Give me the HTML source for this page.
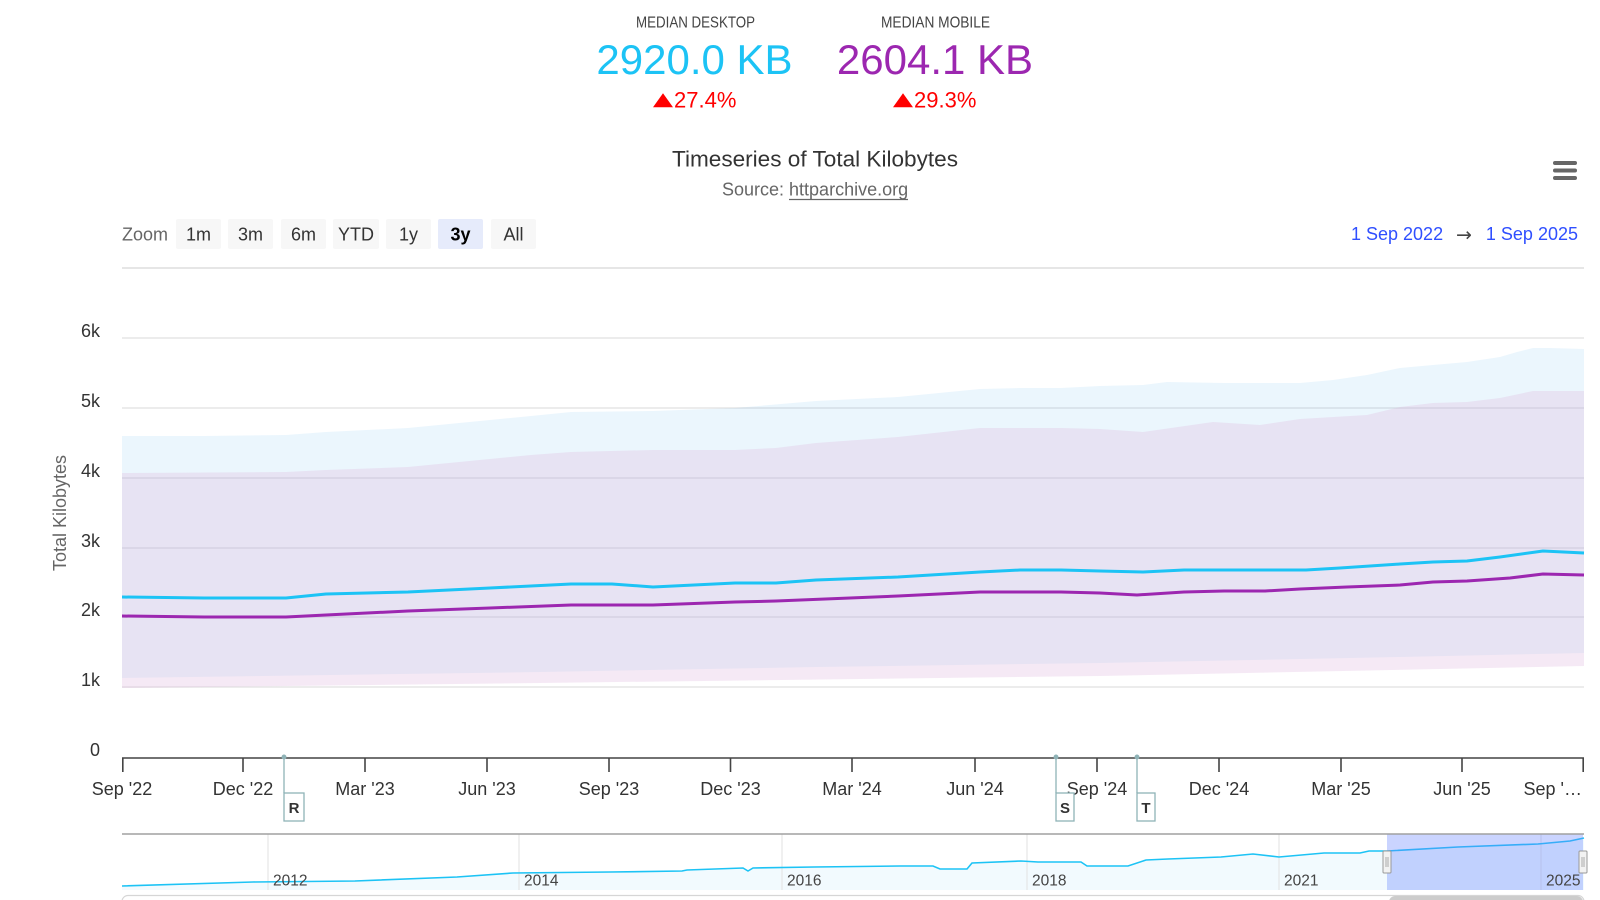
<!DOCTYPE html>
<html><head><meta charset="utf-8"><style>
html,body{margin:0;padding:0;background:#fff;width:1600px;height:900px;overflow:hidden}
svg{display:block}
text{font-family:"Liberation Sans",Arial,sans-serif}
</style></head><body>
<svg width="1600" height="900" viewBox="0 0 1600 900" xmlns="http://www.w3.org/2000/svg">
<!-- Header stats -->
<text x="695.5" y="27.3" font-size="16" fill="#444" text-anchor="middle" textLength="119" lengthAdjust="spacingAndGlyphs">MEDIAN DESKTOP</text>
<text x="935.5" y="27.3" font-size="16" fill="#444" text-anchor="middle" textLength="109" lengthAdjust="spacingAndGlyphs">MEDIAN MOBILE</text>
<text x="694.5" y="74" font-size="42" fill="#1cc3f5" text-anchor="middle">2920.0 KB</text>
<text x="935" y="74" font-size="42" fill="#9c27b0" text-anchor="middle">2604.1 KB</text>
<polygon points="653,107.3 673,107.3 663,93.3" fill="#ff0000"/>
<text x="674" y="107.3" font-size="22" fill="#ff0000">27.4%</text>
<polygon points="893,107.3 913,107.3 903,93.3" fill="#ff0000"/>
<text x="914" y="107.3" font-size="22" fill="#ff0000">29.3%</text>
<!-- Title -->
<text x="815" y="166.5" font-size="22" fill="#333" text-anchor="middle" textLength="286" lengthAdjust="spacingAndGlyphs">Timeseries of Total Kilobytes</text>
<text x="722" y="195.5" font-size="18" fill="#666">Source: httparchive.org</text>
<line x1="789" y1="199.5" x2="908" y2="199.5" stroke="#666" stroke-width="1.2"/>
<!-- Hamburger -->
<rect x="1553" y="161" width="24" height="4" rx="2" fill="#666"/>
<rect x="1553" y="168.5" width="24" height="4" rx="2" fill="#666"/>
<rect x="1553" y="176" width="24" height="4" rx="2" fill="#666"/>
<!-- Zoom buttons -->
<text x="122" y="240.5" font-size="18" fill="#666">Zoom</text>
<g font-size="18" fill="#333" text-anchor="middle">
<rect x="176" y="219" width="45" height="30" rx="2" fill="#f7f7f7"/><text x="198.5" y="240.5">1m</text>
<rect x="228" y="219" width="45" height="30" rx="2" fill="#f7f7f7"/><text x="250.5" y="240.5">3m</text>
<rect x="281" y="219" width="45" height="30" rx="2" fill="#f7f7f7"/><text x="303.5" y="240.5">6m</text>
<rect x="333" y="219" width="46" height="30" rx="2" fill="#f7f7f7"/><text x="356" y="240.5">YTD</text>
<rect x="386" y="219" width="45" height="30" rx="2" fill="#f7f7f7"/><text x="408.5" y="240.5">1y</text>
<rect x="438" y="219" width="45" height="30" rx="2" fill="#e6ebfb"/><text x="460.5" y="240.5" font-weight="bold" fill="#000">3y</text>
<rect x="491" y="219" width="45" height="30" rx="2" fill="#f7f7f7"/><text x="513.5" y="240.5">All</text>
</g>
<!-- Date range -->
<text x="1351" y="240" font-size="18" fill="#2f4fff">1 Sep 2022</text>
<text x="1464" y="241" font-size="19" fill="#444" text-anchor="middle" style="font-family:'DejaVu Sans',sans-serif">→</text>
<text x="1578" y="240" font-size="18" fill="#2f4fff" text-anchor="end">1 Sep 2025</text>
<line x1="122" y1="268" x2="1584" y2="268" stroke="#e6e6e6" stroke-width="2"/>
<!-- Grid -->
<g stroke="#e6e6e6" stroke-width="1.5">
<line x1="122" y1="338" x2="1584" y2="338"/>
<line x1="122" y1="408" x2="1584" y2="408"/>
<line x1="122" y1="478" x2="1584" y2="478"/>
<line x1="122" y1="548" x2="1584" y2="548"/>
<line x1="122" y1="617" x2="1584" y2="617"/>
<line x1="122" y1="687" x2="1584" y2="687"/>
</g>
<!-- Y labels -->
<g font-size="18" fill="#333" text-anchor="end">
<text x="100" y="337">6k</text>
<text x="100" y="407">5k</text>
<text x="100" y="477">4k</text>
<text x="100" y="547">3k</text>
<text x="100" y="616">2k</text>
<text x="100" y="686">1k</text>
<text x="100" y="756">0</text>
</g>
<text transform="translate(66,513) rotate(-90)" font-size="18" fill="#666" text-anchor="middle">Total Kilobytes</text>
<!-- Areas -->
<polygon fill="rgb(55,165,235)" fill-opacity="0.1" points="122,436 204,436 286,435 326,432 408,428 490,420 531,416 571,412 653,411 735,408 816,401 898,397 980,389 1020,388 1061,388 1100,386 1143,385 1167,382 1224,383 1300,383 1333,380 1367,375 1400,368 1433,365 1467,362 1500,357 1517,352 1533,348 1550,348 1584,349 1584,653 1400,657 1100,663 816,667 540,672 122,678"/>
<polygon fill="rgb(222,182,222)" fill-opacity="0.3" points="122,473 286,472 326,470 408,467 490,459 531,455 571,452 653,450 735,450 776,448 816,443 898,437 980,428 1061,428 1100,429 1143,432 1213,422 1260,425 1300,419 1367,415 1400,407 1433,403 1467,402 1500,398 1533,391 1584,391 1584,666 1100,676 540,683 122,688"/>
<!-- Lines -->
<polyline fill="none" stroke="#1cc3f5" stroke-width="3" stroke-linejoin="round" points="122,597 204,598 286,598 326,594 408,592 490,588 571,584 612,584 653,587 735,583 776,583 816,580 898,577 980,572 1020,570 1061,570 1100,571 1143,572 1184,570 1265,570 1306,570 1340,568 1400,564 1433,562 1467,561 1500,557 1543,551 1584,553"/>
<polyline fill="none" stroke="#9c27b0" stroke-width="3" stroke-linejoin="round" points="122,616 204,617 286,617 326,615 408,611 490,608 571,605 653,605 735,602 776,601 898,596 980,592 1061,592 1100,593 1137,595 1184,592 1224,591 1265,591 1300,589 1347,587 1400,585 1433,582 1467,581 1510,578 1543,574 1584,575"/>
<!-- X axis -->
<line x1="122" y1="758" x2="1584" y2="758" stroke="#444" stroke-width="1.6"/>
<g stroke="#444" stroke-width="1.6">
<line x1="122.8" y1="758" x2="122.8" y2="772"/>
<line x1="243" y1="758" x2="243" y2="772"/>
<line x1="365" y1="758" x2="365" y2="772"/>
<line x1="487" y1="758" x2="487" y2="772"/>
<line x1="609" y1="758" x2="609" y2="772"/>
<line x1="730.5" y1="758" x2="730.5" y2="772"/>
<line x1="852" y1="758" x2="852" y2="772"/>
<line x1="975" y1="758" x2="975" y2="772"/>
<line x1="1097" y1="758" x2="1097" y2="772"/>
<line x1="1219" y1="758" x2="1219" y2="772"/>
<line x1="1341" y1="758" x2="1341" y2="772"/>
<line x1="1462" y1="758" x2="1462" y2="772"/>
<line x1="1583.2" y1="758" x2="1583.2" y2="772"/>
</g>
<g font-size="18" fill="#333" text-anchor="middle">
<text x="122" y="795">Sep '22</text>
<text x="243" y="795">Dec '22</text>
<text x="365" y="795">Mar '23</text>
<text x="487" y="795">Jun '23</text>
<text x="609" y="795">Sep '23</text>
<text x="730.5" y="795">Dec '23</text>
<text x="852" y="795">Mar '24</text>
<text x="975" y="795">Jun '24</text>
<text x="1097" y="795">Sep '24</text>
<text x="1219" y="795">Dec '24</text>
<text x="1341" y="795">Mar '25</text>
<text x="1462" y="795">Jun '25</text>
<text x="1582" y="795" text-anchor="end">Sep '…</text>
</g>
<!-- Flags -->
<g stroke="#8fb3b7" stroke-width="1.3" fill="#fff">
<line x1="284" y1="757" x2="284" y2="793"/><circle cx="284" cy="757" r="1.8" fill="#8fb3b7"/>
<rect x="284" y="793" width="20" height="28"/>
<line x1="1056" y1="757" x2="1056" y2="793"/><circle cx="1056" cy="757" r="1.8" fill="#8fb3b7"/>
<rect x="1056" y="793" width="18" height="28"/>
<line x1="1137" y1="757" x2="1137" y2="793"/><circle cx="1137" cy="757" r="1.8" fill="#8fb3b7"/>
<rect x="1137" y="793" width="18" height="28"/>
</g>
<g font-size="15" font-weight="bold" fill="#333" text-anchor="middle">
<text x="294" y="813">R</text>
<text x="1065" y="813">S</text>
<text x="1146" y="813">T</text>
</g>
<!-- Navigator -->
<polygon fill="#f2fafe" points="122,886 253,882 355,881 457,877 513,873 610,872 682,871 687,870 743,868 748,871 753,868 814,867 900,866 933,866 940,869 967,869 972,863 1021,861 1038,862 1081,862 1087,866 1128,866 1146,860 1168,859 1221,857 1253,854 1279,857 1324,853 1360,853 1369,851 1387,851 1458,847 1538,844 1570,841 1584,838 1584,890 122,890"/>
<g stroke="#e6e6e6" stroke-width="1.2">
<line x1="268" y1="834" x2="268" y2="890"/>
<line x1="519" y1="834" x2="519" y2="890"/>
<line x1="782" y1="834" x2="782" y2="890"/>
<line x1="1027" y1="834" x2="1027" y2="890"/>
<line x1="1279" y1="834" x2="1279" y2="890"/>
<line x1="1541" y1="834" x2="1541" y2="890"/>
</g>
<polyline fill="none" stroke="#1cc3f5" stroke-width="1.6" points="122,886 253,882 355,881 457,877 513,873 610,872 682,871 687,870 743,868 748,871 753,868 814,867 900,866 933,866 940,869 967,869 972,863 1021,861 1038,862 1081,862 1087,866 1128,866 1146,860 1168,859 1221,857 1253,854 1279,857 1324,853 1360,853 1369,851 1387,851 1458,847 1538,844 1570,841 1584,838"/>
<rect x="1387" y="834" width="196" height="56" fill="rgb(102,133,255)" fill-opacity="0.35"/>
<g font-size="15.5" fill="#444">
<text x="273" y="885.7">2012</text>
<text x="524" y="885.7">2014</text>
<text x="787" y="885.7">2016</text>
<text x="1032" y="885.7">2018</text>
<text x="1284" y="885.7">2021</text>
<text x="1546" y="885.7">2025</text>
</g>
<line x1="122" y1="834" x2="1584" y2="834" stroke="#a0a0a0" stroke-width="1.6"/>
<g stroke="#999" stroke-width="1" fill="#f2f2f2">
<rect x="1383" y="851" width="8" height="22" rx="1"/>
<rect x="1579" y="851" width="8" height="22" rx="1"/>
</g>
<g stroke="#999" stroke-width="0.8">
<line x1="1386" y1="857" x2="1386" y2="867"/><line x1="1388" y1="857" x2="1388" y2="867"/>
<line x1="1582" y1="857" x2="1582" y2="867"/><line x1="1584" y1="857" x2="1584" y2="867"/>
</g>
<!-- Scrollbar -->
<rect x="122" y="895.5" width="1462" height="20" rx="6" fill="#fff" stroke="#d6d6d6" stroke-width="1.2"/>
<rect x="1389" y="896" width="194" height="20" rx="6" fill="#cccccc"/>
</svg>
</body></html>
